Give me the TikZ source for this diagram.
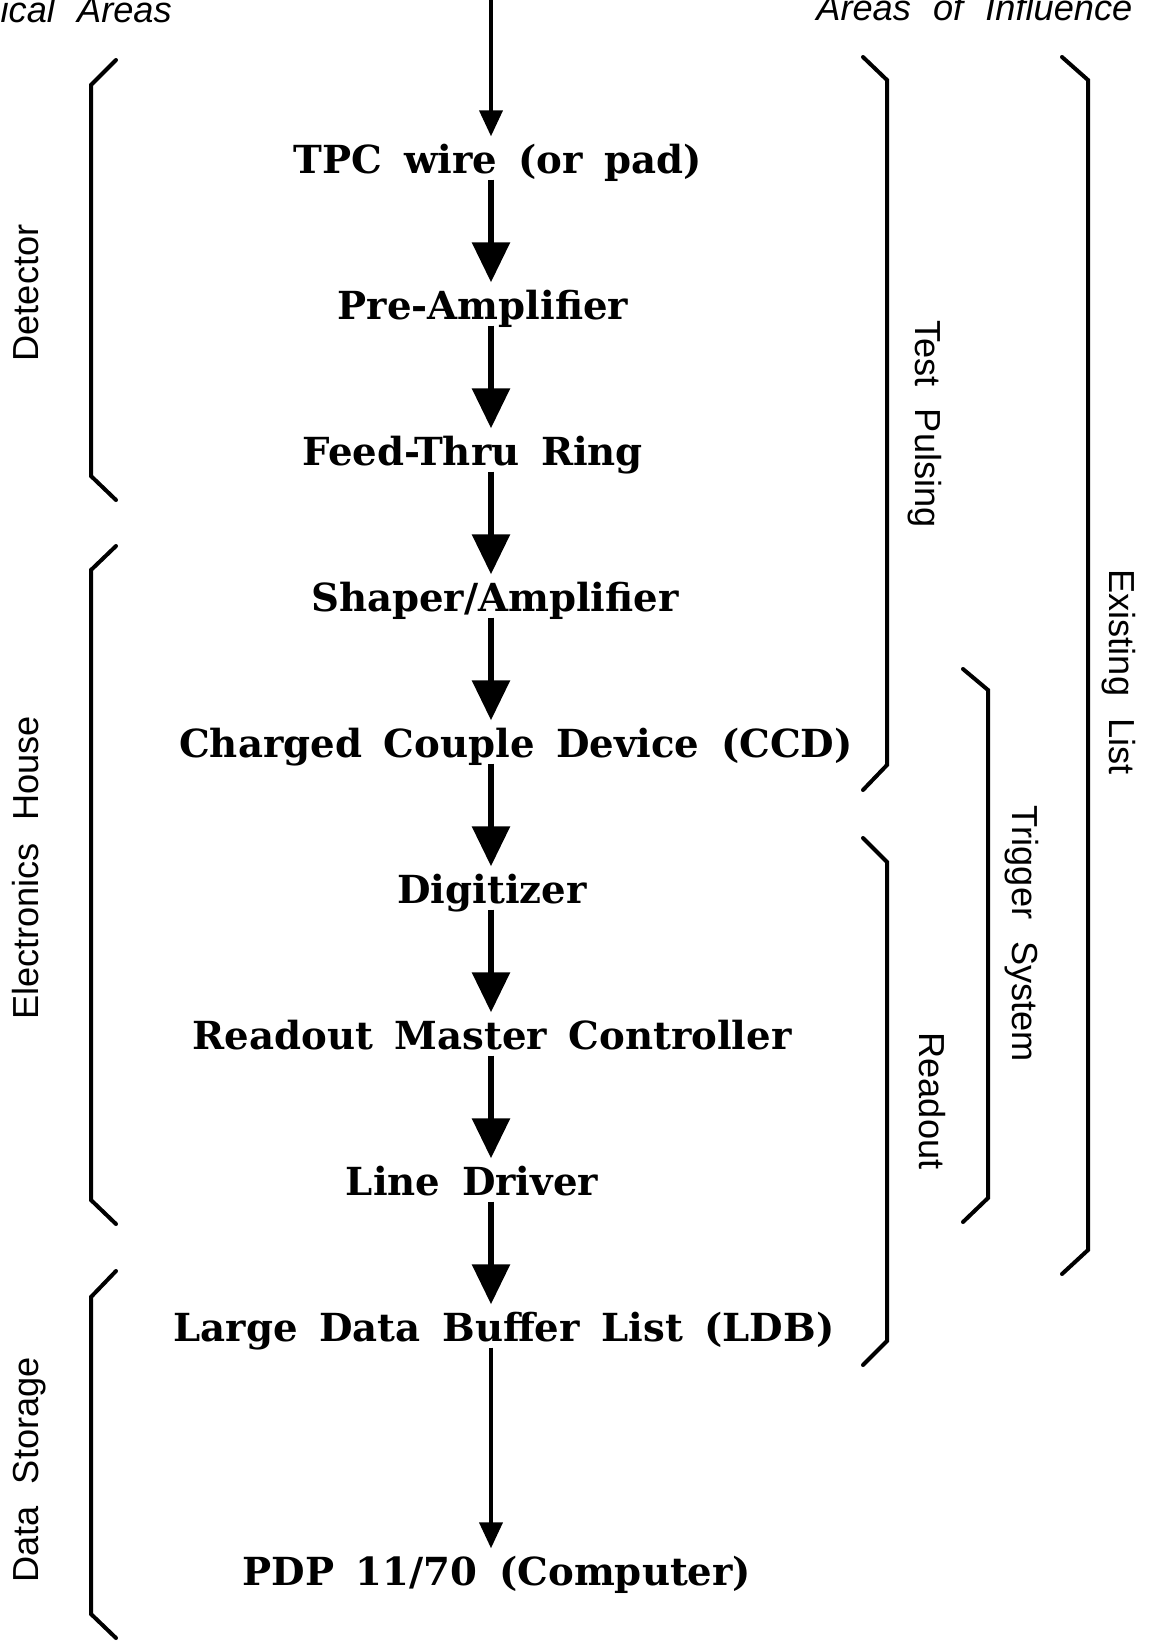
\documentclass[tikz,border=0pt]{standalone}
\usepackage{fontspec}
\setsansfont{Liberation Sans}[WordSpace=2.2]
\newfontfamily\stagefont{DejaVu Serif}[WordSpace=1.6]
\usetikzlibrary{positioning,arrows.meta}
\tikzset{
  stage/.style={font=\stagefont\bfseries\fontsize{11}{13}\selectfont,
                inner sep=0pt,text height=3.6mm,text depth=0.6mm},
  flow/.style={-{Triangle[length=4mm,width=3.7mm]},line width=0.6mm},
  thinflow/.style={-{Triangle[length=2.6mm,width=2.3mm]},line width=0.4mm},
  bracket/.style={line width=0.4mm,line cap=round},
  area/.style={font=\sffamily\fontsize{10.3}{12}\selectfont,inner sep=0pt,
               text height=2.6mm,text depth=0pt},
  head/.style={font=\sffamily\itshape\fontsize{10.3}{12}\selectfont,inner sep=0pt},
}

\begin{document}
\begin{tikzpicture}
\useasboundingbox (0,0) rectangle (11.52,-16.41);

% column headings
\node[head,anchor=base west] (physhead) at (0,-0.22) {ical Areas};
\node[head,anchor=base east] (inflhead) at (11.33,-0.20) {Areas of Influence};

% signal chain, arrows run down x = 4.91
\coordinate (signal) at (4.91,0);
\node[stage] (tpc) at (4.98,-1.58) {TPC wire (or pad)};
\node[stage] (preamp) at (4.83,-3.04) {Pre-Amplifier};
\node[stage] (ring) at (4.73,-4.50) {Feed-Thru Ring};
\node[stage] (shaper) at (4.95,-5.96) {Shaper/Amplifier};
\node[stage] (ccd) at (5.16,-7.42) {Charged Couple Device (CCD)};
\node[stage] (digit) at (4.92,-8.88) {Digitizer};
\node[stage] (rmc) at (4.92,-10.34) {Readout Master Controller};
\node[stage] (driver) at (4.72,-11.80) {Line Driver};
\node[stage] (ldb) at (5.04,-13.26) {Large Data Buffer List (LDB)};
\node[stage] (pdp) at (4.97,-15.70) {PDP 11/70 (Computer)};

\draw[thinflow] (signal) -- (tpc.north -| signal);
\foreach \a/\b in {tpc/preamp,preamp/ring,ring/shaper,shaper/ccd,ccd/digit,
                   digit/rmc,rmc/driver,driver/ldb}
  \draw[flow] (\a.south -| signal) -- (\b.north -| signal);
\draw[thinflow] (ldb.south -| signal) -- (pdp.north -| signal);

% physical areas (left)
\draw[bracket] (1.16,-0.60) -- (0.91,-0.85) -- (0.91,-4.76) -- (1.16,-5.00);
\draw[bracket] (1.16,-5.46) -- (0.91,-5.70) -- (0.91,-12.00) -- (1.16,-12.24);
\draw[bracket] (1.16,-12.71) -- (0.91,-12.97) -- (0.91,-16.14) -- (1.16,-16.38);
\node[area,rotate=90] (det) at (0.25,-2.93) {Detector};
\node[area,rotate=90] (house) at (0.25,-8.68) {Electronics House};
\node[area,rotate=90] (store) at (0.25,-14.70) {Data Storage};

% areas of influence (right)
\draw[bracket] (8.63,-0.57) -- (8.87,-0.80) -- (8.87,-7.65) -- (8.63,-7.90);
\draw[bracket] (8.63,-8.38) -- (8.87,-8.62) -- (8.87,-13.41) -- (8.63,-13.65);
\draw[bracket] (9.63,-6.69) -- (9.88,-6.90) -- (9.88,-11.98) -- (9.63,-12.22);
\draw[bracket] (10.62,-0.57) -- (10.88,-0.80) -- (10.88,-12.50) -- (10.62,-12.74);
\node[area,rotate=-90] (pulse) at (9.28,-4.24) {Test Pulsing};
\node[area,rotate=-90] (readout) at (9.32,-11.01) {Readout};
\node[area,rotate=-90] (trigger) at (10.25,-9.34) {Trigger System};
\node[area,rotate=-90] (exist) at (11.22,-6.72) {Existing List};
\end{tikzpicture}
\end{document}
